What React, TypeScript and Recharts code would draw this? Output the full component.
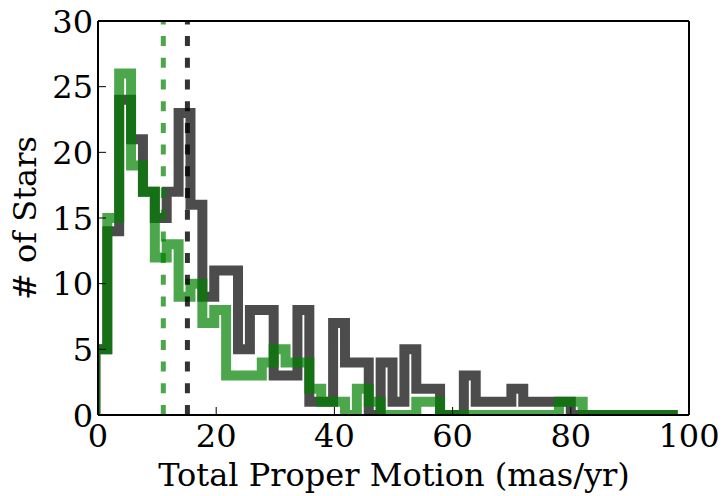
import { LineChart, Line, XAxis, YAxis, ReferenceLine } from 'recharts';

// histogram bins (mas/yr)
const BIN_START = -0.44;
const BIN_WIDTH = 2.011;

// counts per bin
const allStars = [
  5, 14, 24, 21, 17, 15, 17, 23, 16, 9,
  11, 11, 5, 8, 8, 3, 3, 8, 1, 1,
  7, 4, 4, 0, 4, 1, 5, 2, 2, 0,
  0, 3, 1, 1, 1, 2, 1, 1, 1, 1,
  0, 0, 0, 0, 0, 0, 0, 0, 0,
];
const greenStars = [
  5, 15, 26, 19, 17, 12, 13, 9, 10, 7,
  8, 3, 3, 3, 4, 5, 4, 4, 2, 1,
  1, 0, 2, 1, 0, 0, 0, 1, 1, 0,
  0, 0, 0, 0, 0, 0, 0, 0, 0, 1,
  1, 0, 0, 0, 0, 0, 0, 0, 0,
];

// medians (dashed lines)
const medianAll = 15.13;
const medianGreen = 11.05;

const xTicks = [0, 20, 40, 60, 80, 100];
const yTicks = [0, 5, 10, 15, 20, 25, 30];

const FONT = 'DejaVu Serif';
const SIZE = 32;

function toSteps(counts: number[]) {
  const pts = [{ x: BIN_START, y: 0 }];
  counts.forEach((c, i) => pts.push({ x: BIN_START + i * BIN_WIDTH, y: c }));
  pts.push({ x: BIN_START + counts.length * BIN_WIDTH, y: 0 });
  return pts;
}

const allSteps = toSteps(allStars);
const greenSteps = toSteps(greenStars);

const XTick = (props: any) => (
  <text x={props.x} y={447} textAnchor="middle" fontFamily={FONT} fontSize={SIZE} fill="#000">
    {props.payload.value}
  </text>
);

const YTick = (props: any) => (
  <text x={93} y={props.y + 11.5} textAnchor="end" fontFamily={FONT} fontSize={SIZE} fill="#000">
    {props.payload.value}
  </text>
);

const NoTick = () => <g />;

const XTitle = () => (
  <text x={394} y={486} textAnchor="middle" fontFamily={FONT} fontSize={SIZE} fill="#000">
    Total Proper Motion (mas/yr)
  </text>
);

const YTitle = () => (
  <text
    x={36}
    y={218}
    transform="rotate(-90 36 218)"
    textAnchor="middle"
    fontFamily={FONT}
    fontSize={SIZE}
    fill="#000"
  >
    # of Stars
  </text>
);

const axisLine = { stroke: '#000', strokeWidth: 2 };
const tickLine = { stroke: '#000', strokeWidth: 1 };

export default function App() {
  return (
    <div style={{ position: 'absolute', left: 0, top: 0, width: 724, height: 496, background: '#fff' }}>
      <LineChart width={724} height={496} margin={{ top: 21, right: 35, bottom: 81, left: 98 }}>
        <XAxis
          dataKey="x"
          type="number"
          domain={[0, 100]}
          ticks={xTicks}
          interval={0}
          allowDataOverflow
          mirror
          tickSize={8}
          axisLine={axisLine}
          tickLine={tickLine}
          tick={<XTick />}
          label={<XTitle />}
        />
        <XAxis
          xAxisId="top"
          orientation="top"
          type="number"
          domain={[0, 100]}
          ticks={xTicks}
          interval={0}
          mirror
          tickSize={8}
          axisLine={axisLine}
          tickLine={tickLine}
          tick={<NoTick />}
        />
        <YAxis
          dataKey="y"
          type="number"
          domain={[0, 30]}
          ticks={yTicks}
          interval={0}
          allowDataOverflow
          mirror
          tickSize={8}
          axisLine={axisLine}
          tickLine={tickLine}
          tick={<YTick />}
          label={<YTitle />}
        />
        <YAxis
          yAxisId="right"
          orientation="right"
          type="number"
          domain={[0, 30]}
          ticks={yTicks}
          interval={0}
          mirror
          tickSize={8}
          axisLine={axisLine}
          tickLine={tickLine}
          tick={<NoTick />}
        />
        <Line
          data={allSteps}
          dataKey="y"
          type="stepAfter"
          stroke="#000"
          strokeOpacity={0.7}
          strokeWidth={10}
          strokeLinejoin="miter"
          strokeLinecap="butt"
          dot={false}
          activeDot={false}
          isAnimationActive={false}
        />
        <Line
          data={greenSteps}
          dataKey="y"
          type="stepAfter"
          stroke="#008000"
          strokeOpacity={0.7}
          strokeWidth={10}
          strokeLinejoin="miter"
          strokeLinecap="butt"
          dot={false}
          activeDot={false}
          isAnimationActive={false}
        />
        <ReferenceLine x={medianGreen} stroke="#008000" strokeOpacity={0.7} strokeWidth={5} strokeDasharray="10 11.7" />
        <ReferenceLine x={medianAll} stroke="#000" strokeOpacity={0.8} strokeWidth={5} strokeDasharray="10 11.7" />
      </LineChart>
    </div>
  );
}
